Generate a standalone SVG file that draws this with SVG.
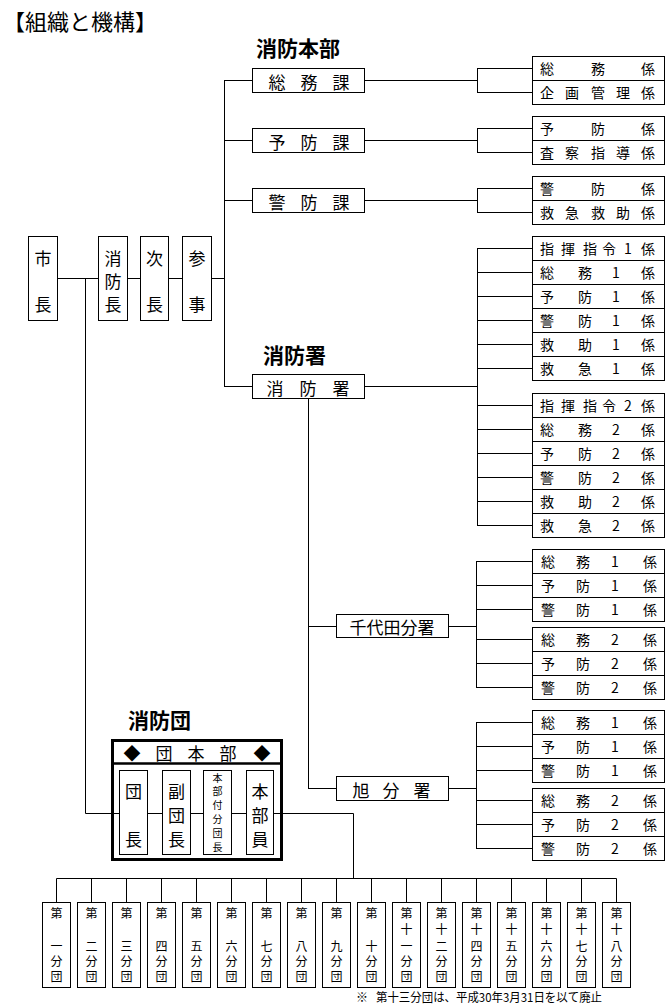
<svg xmlns="http://www.w3.org/2000/svg" width="666" height="1005" viewBox="0 0 666 1005">
<style>
.b{fill:#fff;stroke:#000;stroke-width:1}
.l{stroke:#000;stroke-width:1;fill:none}
text{font-family:"Noto Sans CJK JP","Noto Sans CJK SC",sans-serif;fill:#000}
.t{font-size:14px;text-anchor:middle;dominant-baseline:central}
.m{font-size:17px;text-anchor:middle;dominant-baseline:central}
.h{font-size:21px;font-weight:bold;dominant-baseline:central}
.s{font-size:10px;text-anchor:middle;dominant-baseline:central}
.u{font-size:12px;text-anchor:middle;dominant-baseline:central}
</style>
<rect width="666" height="1005" fill="#fff"/>
<text x="3" y="20" font-size="22" fill="#444" dominant-baseline="central">【組織と機構】</text>
<text class="h" x="256" y="47">消防本部</text>
<text class="h" x="263" y="354">消防署</text>
<text class="h" x="128" y="719">消防団</text>

<g id="connectors" class="l">
<path d="M57 278.5H225"/>
<path d="M224.5 80V387"/>
<path d="M224.5 80.5H252M224.5 140.5H252M224.5 200.5H252M224.5 386.5H252"/>
<path d="M364 80.5H477M364 140.5H477M364 200.5H477M364 386.5H477"/>
<path d="M477.5 68V92M477.5 128V152M477.5 188V212M477.5 248V525"/>
<path d="M477 68.5H532M477 92.5H532M477 128.5H532M477 152.5H532M477 188.5H532M477 212.5H532"/>
<path d="M477 248.5H532M477 272.5H532M477 296.5H532M477 320.5H532M477 344.5H532M477 368.5H532"/>
<path d="M477 405.5H532M477 429.5H532M477 453.5H532M477 477.5H532M477 501.5H532M477 525.5H532"/>
<path d="M308.5 398V788.5M308 626.5H336M308 788.5H336"/>
<path d="M448 626.5H476.5M448 788.5H476.5M476.5 561V687M476.5 722V848"/>
<path d="M476 561.5H532M476 585.5H532M476 609.5H532M476 639.5H532M476 663.5H532M476 687.5H532"/>
<path d="M476 722.5H532M476 746.5H532M476 770.5H532M476 800.5H532M476 824.5H532M476 848.5H532"/>
<path d="M85.5 278V813.5H353.5V878"/>
<path d="M56.5 902V878.5H616.5V902"/>
<path d="M91.5 878V902M126.5 878V902M161.5 878V902M196.5 878V902M231.5 878V902M266.5 878V902M301.5 878V902M336.5 878V902M371.5 878V902M406.5 878V902M441.5 878V902M476.5 878V902M511.5 878V902M546.5 878V902M581.5 878V902"/>
</g>

<g id="shicho"><rect class="b" x="28.5" y="236.5" width="29" height="84"/><text class="m"><tspan x="43" y="257">市</tspan><tspan x="43" y="303">長</tspan></text></g>
<g id="shoboucho"><rect class="b" x="98.5" y="236.5" width="29" height="84"/><text class="m"><tspan x="113" y="257">消</tspan><tspan x="113" y="280">防</tspan><tspan x="113" y="303">長</tspan></text></g>
<g id="jicho"><rect class="b" x="140.5" y="236.5" width="28" height="84"/><text class="m"><tspan x="154.5" y="257">次</tspan><tspan x="154.5" y="303">長</tspan></text></g>
<g id="sanji"><rect class="b" x="182.5" y="236.5" width="29" height="84"/><text class="m"><tspan x="197" y="257">参</tspan><tspan x="197" y="303">事</tspan></text></g>

<g id="somuka"><rect class="b" x="252.5" y="68.5" width="112" height="24"/><text class="m" y="80.5"><tspan x="277">総</tspan><tspan x="309">務</tspan><tspan x="341">課</tspan></text></g>
<g id="yoboka"><rect class="b" x="252.5" y="128.5" width="112" height="24"/><text class="m" y="140.5"><tspan x="277">予</tspan><tspan x="309">防</tspan><tspan x="341">課</tspan></text></g>
<g id="keiboka"><rect class="b" x="252.5" y="188.5" width="112" height="24"/><text class="m" y="200.5"><tspan x="277">警</tspan><tspan x="309">防</tspan><tspan x="341">課</tspan></text></g>
<g id="shobosho"><rect class="b" x="252.5" y="374.5" width="112" height="24"/><text class="m" y="386.5"><tspan x="275">消</tspan><tspan x="308">防</tspan><tspan x="341">署</tspan></text></g>
<g id="chiyoda"><rect class="b" x="336.5" y="614.5" width="112" height="23"/><text class="m" x="392" y="626" font-size="18">千代田分署</text></g>
<g id="asahi"><rect class="b" x="336.5" y="776.5" width="112" height="24"/><text class="m" y="788.5" font-size="18"><tspan x="361">旭</tspan><tspan x="391">分</tspan><tspan x="422">署</tspan></text></g>

<g id="kakari-somuka">
<rect class="b" x="532.5" y="56.5" width="132" height="24"/><rect class="b" x="532.5" y="80.5" width="132" height="24"/>
<text class="t" y="68"><tspan x="547">総</tspan><tspan x="598">務</tspan><tspan x="648">係</tspan></text>
<text class="t" y="92"><tspan x="547">企</tspan><tspan x="572">画</tspan><tspan x="598">管</tspan><tspan x="623">理</tspan><tspan x="648">係</tspan></text>
</g>
<g id="kakari-yoboka">
<rect class="b" x="532.5" y="116.5" width="132" height="24"/><rect class="b" x="532.5" y="140.5" width="132" height="24"/>
<text class="t" y="128"><tspan x="547">予</tspan><tspan x="598">防</tspan><tspan x="648">係</tspan></text>
<text class="t" y="152"><tspan x="547">査</tspan><tspan x="572">察</tspan><tspan x="598">指</tspan><tspan x="623">導</tspan><tspan x="648">係</tspan></text>
</g>
<g id="kakari-keiboka">
<rect class="b" x="532.5" y="176.5" width="132" height="24"/><rect class="b" x="532.5" y="200.5" width="132" height="24"/>
<text class="t" y="188"><tspan x="547">警</tspan><tspan x="598">防</tspan><tspan x="648">係</tspan></text>
<text class="t" y="212"><tspan x="547">救</tspan><tspan x="572">急</tspan><tspan x="598">救</tspan><tspan x="623">助</tspan><tspan x="648">係</tspan></text>
</g>
<g id="kakari-sho1">
<rect class="b" x="532.5" y="236.5" width="132" height="24"/><rect class="b" x="532.5" y="260.5" width="132" height="24"/><rect class="b" x="532.5" y="284.5" width="132" height="24"/><rect class="b" x="532.5" y="308.5" width="132" height="24"/><rect class="b" x="532.5" y="332.5" width="132" height="24"/><rect class="b" x="532.5" y="356.5" width="132" height="24"/>
<text class="t" y="248"><tspan x="547">指</tspan><tspan x="568">揮</tspan><tspan x="590">指</tspan><tspan x="609">令</tspan><tspan x="628">1</tspan><tspan x="648">係</tspan></text>
<text class="t" y="272"><tspan x="547">総</tspan><tspan x="585">務</tspan><tspan x="616">1</tspan><tspan x="648">係</tspan></text>
<text class="t" y="296"><tspan x="547">予</tspan><tspan x="585">防</tspan><tspan x="616">1</tspan><tspan x="648">係</tspan></text>
<text class="t" y="320"><tspan x="547">警</tspan><tspan x="585">防</tspan><tspan x="616">1</tspan><tspan x="648">係</tspan></text>
<text class="t" y="344"><tspan x="547">救</tspan><tspan x="585">助</tspan><tspan x="616">1</tspan><tspan x="648">係</tspan></text>
<text class="t" y="368"><tspan x="547">救</tspan><tspan x="585">急</tspan><tspan x="616">1</tspan><tspan x="648">係</tspan></text>
</g>
<g id="kakari-sho2">
<rect class="b" x="532.5" y="393.5" width="132" height="24"/><rect class="b" x="532.5" y="417.5" width="132" height="24"/><rect class="b" x="532.5" y="441.5" width="132" height="24"/><rect class="b" x="532.5" y="465.5" width="132" height="24"/><rect class="b" x="532.5" y="489.5" width="132" height="24"/><rect class="b" x="532.5" y="513.5" width="132" height="24"/>
<text class="t" y="405"><tspan x="547">指</tspan><tspan x="568">揮</tspan><tspan x="590">指</tspan><tspan x="609">令</tspan><tspan x="628">2</tspan><tspan x="648">係</tspan></text>
<text class="t" y="429"><tspan x="547">総</tspan><tspan x="585">務</tspan><tspan x="616">2</tspan><tspan x="648">係</tspan></text>
<text class="t" y="453"><tspan x="547">予</tspan><tspan x="585">防</tspan><tspan x="616">2</tspan><tspan x="648">係</tspan></text>
<text class="t" y="477"><tspan x="547">警</tspan><tspan x="585">防</tspan><tspan x="616">2</tspan><tspan x="648">係</tspan></text>
<text class="t" y="501"><tspan x="547">救</tspan><tspan x="585">助</tspan><tspan x="616">2</tspan><tspan x="648">係</tspan></text>
<text class="t" y="525"><tspan x="547">救</tspan><tspan x="585">急</tspan><tspan x="616">2</tspan><tspan x="648">係</tspan></text>
</g>
<g id="kakari-chiyoda1">
<rect class="b" x="532.5" y="549.5" width="132" height="24"/><rect class="b" x="532.5" y="573.5" width="132" height="24"/><rect class="b" x="532.5" y="597.5" width="132" height="24"/>
<text class="t" y="561"><tspan x="548">総</tspan><tspan x="583">務</tspan><tspan x="615">1</tspan><tspan x="650">係</tspan></text>
<text class="t" y="585"><tspan x="548">予</tspan><tspan x="583">防</tspan><tspan x="615">1</tspan><tspan x="650">係</tspan></text>
<text class="t" y="609"><tspan x="548">警</tspan><tspan x="583">防</tspan><tspan x="615">1</tspan><tspan x="650">係</tspan></text>
</g>
<g id="kakari-chiyoda2">
<rect class="b" x="532.5" y="627.5" width="132" height="24"/><rect class="b" x="532.5" y="651.5" width="132" height="24"/><rect class="b" x="532.5" y="675.5" width="132" height="24"/>
<text class="t" y="639"><tspan x="548">総</tspan><tspan x="583">務</tspan><tspan x="615">2</tspan><tspan x="650">係</tspan></text>
<text class="t" y="663"><tspan x="548">予</tspan><tspan x="583">防</tspan><tspan x="615">2</tspan><tspan x="650">係</tspan></text>
<text class="t" y="687"><tspan x="548">警</tspan><tspan x="583">防</tspan><tspan x="615">2</tspan><tspan x="650">係</tspan></text>
</g>
<g id="kakari-asahi1">
<rect class="b" x="532.5" y="710.5" width="132" height="24"/><rect class="b" x="532.5" y="734.5" width="132" height="24"/><rect class="b" x="532.5" y="758.5" width="132" height="24"/>
<text class="t" y="722"><tspan x="548">総</tspan><tspan x="583">務</tspan><tspan x="615">1</tspan><tspan x="650">係</tspan></text>
<text class="t" y="746"><tspan x="548">予</tspan><tspan x="583">防</tspan><tspan x="615">1</tspan><tspan x="650">係</tspan></text>
<text class="t" y="770"><tspan x="548">警</tspan><tspan x="583">防</tspan><tspan x="615">1</tspan><tspan x="650">係</tspan></text>
</g>
<g id="kakari-asahi2">
<rect class="b" x="532.5" y="788.5" width="132" height="24"/><rect class="b" x="532.5" y="812.5" width="132" height="24"/><rect class="b" x="532.5" y="836.5" width="132" height="24"/>
<text class="t" y="800"><tspan x="548">総</tspan><tspan x="583">務</tspan><tspan x="615">2</tspan><tspan x="650">係</tspan></text>
<text class="t" y="824"><tspan x="548">予</tspan><tspan x="583">防</tspan><tspan x="615">2</tspan><tspan x="650">係</tspan></text>
<text class="t" y="848"><tspan x="548">警</tspan><tspan x="583">防</tspan><tspan x="615">2</tspan><tspan x="650">係</tspan></text>
</g>

<g id="danhonbu">
<rect x="112.5" y="740.5" width="169" height="119" fill="none" stroke="#000" stroke-width="3"/>
<path d="M112 763.5H282" stroke="#000" stroke-width="2.5"/>
<text class="m" y="752" font-size="16"><tspan x="132">◆</tspan><tspan x="164">団</tspan><tspan x="196">本</tspan><tspan x="228">部</tspan><tspan x="262">◆</tspan></text>
</g>
<g id="dancho"><rect class="b" x="119.5" y="770.5" width="28" height="84"/><text class="m"><tspan x="133.5" y="790">団</tspan><tspan x="133.5" y="838">長</tspan></text></g>
<g id="fukudancho"><rect class="b" x="162.5" y="770.5" width="28" height="84"/><text class="m"><tspan x="176.5" y="790">副</tspan><tspan x="176.5" y="814">団</tspan><tspan x="176.5" y="838">長</tspan></text></g>
<g id="honbutsuki"><rect class="b" x="203.5" y="770.5" width="28" height="84"/><text class="s"><tspan x="217.5" y="777">本</tspan><tspan x="217.5" y="790">部</tspan><tspan x="217.5" y="804">付</tspan><tspan x="217.5" y="818">分</tspan><tspan x="217.5" y="832">団</tspan><tspan x="217.5" y="846">長</tspan></text></g>
<g id="honbuin"><rect class="b" x="246.5" y="770.5" width="27" height="84"/><text class="m"><tspan x="260" y="790">本</tspan><tspan x="260" y="814">部</tspan><tspan x="260" y="838">員</tspan></text></g>

<g id="bundan1"><rect class="b" x="42.5" y="902.5" width="28" height="85"/><text class="u"><tspan x="56.5" y="912">第</tspan><tspan x="56.5" y="945">一</tspan><tspan x="56.5" y="960">分</tspan><tspan x="56.5" y="975">団</tspan></text></g>
<g id="bundan2"><rect class="b" x="77.5" y="902.5" width="28" height="85"/><text class="u"><tspan x="91.5" y="912">第</tspan><tspan x="91.5" y="945">二</tspan><tspan x="91.5" y="960">分</tspan><tspan x="91.5" y="975">団</tspan></text></g>
<g id="bundan3"><rect class="b" x="112.5" y="902.5" width="28" height="85"/><text class="u"><tspan x="126.5" y="912">第</tspan><tspan x="126.5" y="945">三</tspan><tspan x="126.5" y="960">分</tspan><tspan x="126.5" y="975">団</tspan></text></g>
<g id="bundan4"><rect class="b" x="147.5" y="902.5" width="28" height="85"/><text class="u"><tspan x="161.5" y="912">第</tspan><tspan x="161.5" y="945">四</tspan><tspan x="161.5" y="960">分</tspan><tspan x="161.5" y="975">団</tspan></text></g>
<g id="bundan5"><rect class="b" x="182.5" y="902.5" width="28" height="85"/><text class="u"><tspan x="196.5" y="912">第</tspan><tspan x="196.5" y="945">五</tspan><tspan x="196.5" y="960">分</tspan><tspan x="196.5" y="975">団</tspan></text></g>
<g id="bundan6"><rect class="b" x="217.5" y="902.5" width="28" height="85"/><text class="u"><tspan x="231.5" y="912">第</tspan><tspan x="231.5" y="945">六</tspan><tspan x="231.5" y="960">分</tspan><tspan x="231.5" y="975">団</tspan></text></g>
<g id="bundan7"><rect class="b" x="252.5" y="902.5" width="28" height="85"/><text class="u"><tspan x="266.5" y="912">第</tspan><tspan x="266.5" y="945">七</tspan><tspan x="266.5" y="960">分</tspan><tspan x="266.5" y="975">団</tspan></text></g>
<g id="bundan8"><rect class="b" x="287.5" y="902.5" width="28" height="85"/><text class="u"><tspan x="301.5" y="912">第</tspan><tspan x="301.5" y="945">八</tspan><tspan x="301.5" y="960">分</tspan><tspan x="301.5" y="975">団</tspan></text></g>
<g id="bundan9"><rect class="b" x="322.5" y="902.5" width="28" height="85"/><text class="u"><tspan x="336.5" y="912">第</tspan><tspan x="336.5" y="945">九</tspan><tspan x="336.5" y="960">分</tspan><tspan x="336.5" y="975">団</tspan></text></g>
<g id="bundan10"><rect class="b" x="357.5" y="902.5" width="28" height="85"/><text class="u"><tspan x="371.5" y="912">第</tspan><tspan x="371.5" y="945">十</tspan><tspan x="371.5" y="960">分</tspan><tspan x="371.5" y="975">団</tspan></text></g>
<g id="bundan11"><rect class="b" x="392.5" y="902.5" width="28" height="85"/><text class="u"><tspan x="406.5" y="912">第</tspan><tspan x="406.5" y="928">十</tspan><tspan x="406.5" y="945">一</tspan><tspan x="406.5" y="960">分</tspan><tspan x="406.5" y="975">団</tspan></text></g>
<g id="bundan12"><rect class="b" x="427.5" y="902.5" width="28" height="85"/><text class="u"><tspan x="441.5" y="912">第</tspan><tspan x="441.5" y="928">十</tspan><tspan x="441.5" y="945">二</tspan><tspan x="441.5" y="960">分</tspan><tspan x="441.5" y="975">団</tspan></text></g>
<g id="bundan14"><rect class="b" x="462.5" y="902.5" width="28" height="85"/><text class="u"><tspan x="476.5" y="912">第</tspan><tspan x="476.5" y="928">十</tspan><tspan x="476.5" y="945">四</tspan><tspan x="476.5" y="960">分</tspan><tspan x="476.5" y="975">団</tspan></text></g>
<g id="bundan15"><rect class="b" x="497.5" y="902.5" width="28" height="85"/><text class="u"><tspan x="511.5" y="912">第</tspan><tspan x="511.5" y="928">十</tspan><tspan x="511.5" y="945">五</tspan><tspan x="511.5" y="960">分</tspan><tspan x="511.5" y="975">団</tspan></text></g>
<g id="bundan16"><rect class="b" x="532.5" y="902.5" width="28" height="85"/><text class="u"><tspan x="546.5" y="912">第</tspan><tspan x="546.5" y="928">十</tspan><tspan x="546.5" y="945">六</tspan><tspan x="546.5" y="960">分</tspan><tspan x="546.5" y="975">団</tspan></text></g>
<g id="bundan17"><rect class="b" x="567.5" y="902.5" width="28" height="85"/><text class="u"><tspan x="581.5" y="912">第</tspan><tspan x="581.5" y="928">十</tspan><tspan x="581.5" y="945">七</tspan><tspan x="581.5" y="960">分</tspan><tspan x="581.5" y="975">団</tspan></text></g>
<g id="bundan18"><rect class="b" x="602.5" y="902.5" width="28" height="85"/><text class="u"><tspan x="616.5" y="912">第</tspan><tspan x="616.5" y="928">十</tspan><tspan x="616.5" y="945">八</tspan><tspan x="616.5" y="960">分</tspan><tspan x="616.5" y="975">団</tspan></text></g>

<text font-size="12" y="996" dominant-baseline="central"><tspan x="356">※</tspan><tspan x="376" textLength="226" lengthAdjust="spacingAndGlyphs">第十三分団は、平成30年3月31日を以て廃止</tspan></text>
</svg>
